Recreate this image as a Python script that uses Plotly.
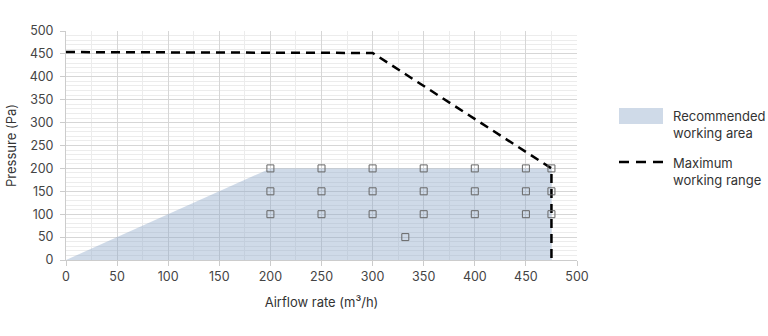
import plotly.graph_objects as go

# Recommended working area polygon
area_x = [0, 200, 475, 475, 0]
area_y = [0, 200, 200, 0, 0]

# Maximum working range line
max_x = [0, 300, 475, 475]
max_y = [454, 452, 200, 0]

# Measurement points
pt_x = [200, 250, 300, 350, 400, 450, 475,
        200, 250, 300, 350, 400, 450, 475,
        200, 250, 300, 350, 400, 450, 475,
        332]
pt_y = [200]*7 + [150]*7 + [100]*7 + [50]

legend_labels = ["Recommended<br>working area", "Maximum<br>working range"]

font_family = "Inter, Roboto, sans-serif"
fill_col = "rgba(140,166,199,0.42)"

W, H = 768, 336
ML, MR, MT, MB = 66, 191, 31, 76
PW, PH = W - ML - MR, H - MT - MB


def px(xp):
    return (xp - ML) / PW


def py(yp):
    return (H - MB - yp) / PH


fig = go.Figure()
fig.add_trace(go.Scatter(
    x=area_x, y=area_y, fill="toself", mode="lines",
    line=dict(width=0, color=fill_col), fillcolor=fill_col,
    name=legend_labels[0], hoverinfo="skip", showlegend=False))
fig.add_trace(go.Scatter(
    x=max_x, y=max_y, mode="lines",
    line=dict(color="black", width=2.5, dash="9px,6px"),
    name=legend_labels[1], showlegend=False))
fig.add_trace(go.Scatter(
    x=pt_x, y=pt_y, mode="markers",
    marker=dict(symbol="square-open", size=7, color="#666666", line=dict(width=1)),
    showlegend=False))

axis_common = dict(
    range=[0, 500], dtick=50, showgrid=True, gridcolor="#d6d6d6", gridwidth=1,
    zeroline=False, showline=True, linecolor="#cccccc", linewidth=1,
    ticks="outside", ticklen=5, tickcolor="#cccccc",
    tickfont=dict(family=font_family, size=12.5, color="#444444"),
    mirror=False,
)

fig.update_xaxes(**axis_common,
                 minor=dict(dtick=25, showgrid=True, gridcolor="#ececec"),
                 title=dict(text="Airflow rate (m³/h)", standoff=14,
                            font=dict(family=font_family, size=13, color="#333333")))
fig.update_yaxes(**axis_common, ticklabelstandoff=4,
                 minor=dict(dtick=10, showgrid=True, gridcolor="#ececec"),
                 title=dict(text="Pressure (Pa)", standoff=10,
                            font=dict(family=font_family, size=13, color="#333333")))

# Manual legend (swatches + labels)
shapes = [
    dict(type="rect", xref="paper", yref="paper",
         x0=px(619), x1=px(663), y0=py(124), y1=py(108),
         fillcolor=fill_col, line=dict(width=0)),
    dict(type="line", xref="paper", yref="paper",
         x0=px(619), x1=px(663), y0=py(162), y1=py(162),
         line=dict(color="black", width=2.5, dash="10px,7px")),
]
annotations = [
    dict(xref="paper", yref="paper", x=px(671), y=py(124.5), text=legend_labels[0],
         showarrow=False, xanchor="left", yanchor="middle", align="left",
         font=dict(family=font_family, size=13, color="#333333")),
    dict(xref="paper", yref="paper", x=px(671), y=py(171.5), text=legend_labels[1],
         showarrow=False, xanchor="left", yanchor="middle", align="left",
         font=dict(family=font_family, size=13, color="#333333")),
]

fig.update_layout(
    width=W, height=H,
    margin=dict(l=ML, r=MR, t=MT, b=MB),
    plot_bgcolor="white", paper_bgcolor="white",
    font=dict(family=font_family, size=12, color="#333333"),
    showlegend=False,
    shapes=shapes, annotations=annotations,
)

fig.write_html("out.html")
